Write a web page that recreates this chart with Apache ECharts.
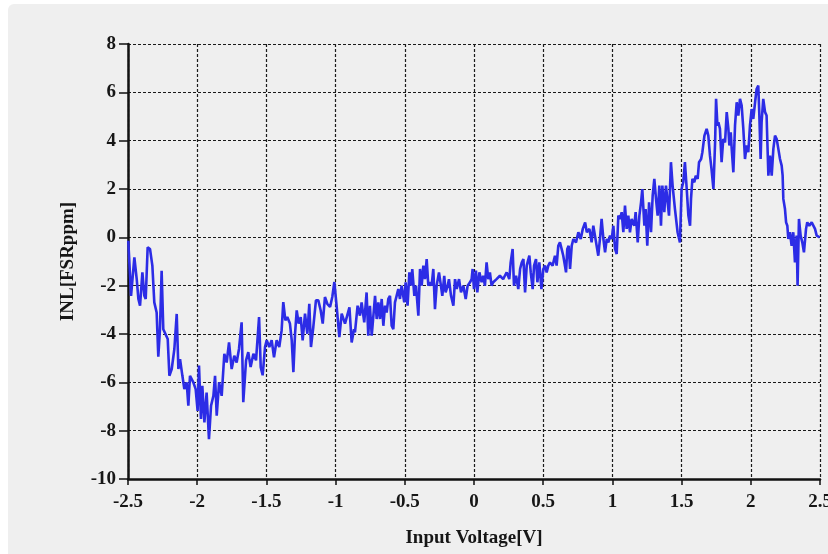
<!DOCTYPE html>
<html>
<head>
<meta charset="utf-8">
<script src="https://cdn.jsdelivr.net/npm/echarts@6/dist/echarts.min.js"></script>
<style>
  html, body { margin: 0; padding: 0; background: #ffffff; overflow: hidden; }
  #panel { position: absolute; left: 8px; top: 4px; width: 840px; height: 570px; background: #efefef; border-radius: 6px; }
  #chart { position: absolute; left: 0; top: 0; width: 828px; height: 554px; }
</style>
</head>
<body>
<div id="panel"></div>
<div id="chart"></div>
<script>
// Axis ticks
const xTicks = [-2.5, -2, -1.5, -1, -0.5, 0, 0.5, 1, 1.5, 2, 2.5];
const yTicks = [-10, -8, -6, -4, -2, 0, 2, 4, 6, 8];

// Input voltage [V] of each INL sample
const voltage = [
  -2.498, -2.478, -2.454, -2.437, -2.425, -2.413, -2.396, -2.382, -2.372, -2.358,
  -2.341, -2.324, -2.310, -2.293, -2.281, -2.269, -2.257, -2.245, -2.233, -2.213,
  -2.201, -2.184, -2.165, -2.148, -2.136, -2.124, -2.107, -2.093, -2.076, -2.064,
  -2.052, -2.040, -2.028, -2.011, -1.997, -1.987, -1.973, -1.963, -1.948, -1.932,
  -1.915, -1.900, -1.883, -1.871, -1.859, -1.842, -1.823, -1.804, -1.787, -1.770,
  -1.751, -1.732, -1.715, -1.698, -1.679,
  -1.667, -1.647, -1.631, -1.614, -1.594, -1.575, -1.553, -1.541, -1.527, -1.510,
  -1.498, -1.479, -1.462, -1.445, -1.426, -1.407, -1.390, -1.378, -1.363, -1.349,
  -1.330, -1.317, -1.305, -1.293, -1.281, -1.267, -1.252, -1.238, -1.221, -1.204,
  -1.190, -1.178, -1.161, -1.142, -1.125, -1.108, -1.093, -1.077, -1.060, -1.040,
  -1.024, -1.009, -0.992, -0.973, -0.956, -0.932,
  -0.920, -0.900, -0.884, -0.867,
  -0.860, -0.841, -0.824, -0.812, -0.793, -0.776, -0.764, -0.752, -0.739, -0.727,
  -0.715, -0.703, -0.691, -0.679, -0.667, -0.655, -0.643, -0.631, -0.619, -0.607,
  -0.595, -0.583, -0.571, -0.559, -0.547, -0.535, -0.523, -0.504, -0.494, -0.480,
  -0.467, -0.455, -0.446, -0.431, -0.419, -0.402, -0.390, -0.378, -0.366, -0.354,
  -0.342, -0.330, -0.318, -0.306, -0.294, -0.282, -0.270, -0.253, -0.239, -0.229,
  -0.215, -0.205, -0.190, -0.181, -0.166, -0.149, -0.137, -0.125, -0.108, -0.094,
  -0.077, -0.060, -0.046, -0.029, -0.017,
  -0.010, 0.000, 0.014, 0.024, 0.039, 0.055, 0.067, 0.079, 0.091, 0.103,
  0.115, 0.127, 0.139, 0.151, 0.163, 0.175, 0.187, 0.199, 0.211, 0.223,
  0.236, 0.255, 0.265, 0.279, 0.289, 0.304, 0.320, 0.333, 0.345, 0.357,
  0.369, 0.381, 0.400, 0.410, 0.424, 0.434, 0.448, 0.458, 0.472, 0.487,
  0.501, 0.513, 0.525, 0.537, 0.549, 0.568, 0.585, 0.597, 0.609, 0.621,
  0.633, 0.645, 0.657, 0.665, 0.674, 0.684, 0.694, 0.706, 0.718, 0.737,
  0.754, 0.771, 0.786, 0.803, 0.815, 0.834,
  0.838, 0.850, 0.862, 0.874, 0.886, 0.898, 0.910, 0.922, 0.935, 0.947,
  0.959, 0.971, 0.983, 0.995, 1.007, 1.019, 1.031, 1.043, 1.055, 1.067,
  1.079, 1.091, 1.103, 1.115, 1.127, 1.139, 1.158, 1.168, 1.183, 1.195,
  1.207, 1.216, 1.231, 1.240, 1.252, 1.265, 1.279, 1.291, 1.303, 1.315,
  1.327, 1.339, 1.351, 1.361, 1.375, 1.387, 1.399, 1.409, 1.423, 1.435,
  1.452, 1.471, 1.488, 1.500, 1.512, 1.524, 1.537, 1.549, 1.561, 1.568,
  1.578, 1.592, 1.602, 1.616, 1.626, 1.641, 1.650, 1.665,
  1.681, 1.693, 1.705, 1.716, 1.730, 1.742, 1.749, 1.759, 1.766, 1.777,
  1.789, 1.801, 1.814, 1.826, 1.838, 1.845, 1.855, 1.862, 1.874, 1.886,
  1.898, 1.910, 1.922, 1.934, 1.946, 1.958, 1.970, 1.982, 1.994, 2.006,
  2.018, 2.031, 2.042, 2.054, 2.061, 2.071, 2.078, 2.090, 2.103, 2.114,
  2.127, 2.139, 2.151, 2.163, 2.175, 2.187, 2.199, 2.211, 2.223, 2.230,
  2.235, 2.247, 2.255, 2.264, 2.271, 2.283, 2.295, 2.307, 2.319, 2.331,
  2.338, 2.348, 2.360, 2.372, 2.384, 2.399, 2.408, 2.423, 2.440, 2.452,
  2.464, 2.476, 2.488, 2.498
];

// Integral non-linearity [FSR ppm] at each voltage
const inl = [
  -0.14, -2.42, -0.83, -1.73, -2.55, -2.83, -1.45, -2.42, -2.55, -0.41,
  -0.48, -1.17, -2.69, -3.11, -4.94, -3.80, -1.38, -3.80, -3.73, -4.21,
  -5.73, -5.45, -4.62, -3.17, -5.45, -5.04, -5.73, -6.28, -6.00, -6.97,
  -5.73, -5.73, -6.00, -6.28, -7.18, -5.31, -7.52, -6.14, -7.66, -6.42,
  -8.35, -6.97, -6.56, -5.73, -7.38, -6.00, -6.56, -4.82, -5.18, -4.35,
  -5.45, -4.90, -5.18, -4.62, -3.52,
  -6.82, -5.09, -4.75, -5.37, -4.82, -5.09, -3.30, -5.37, -5.71, -4.54,
  -4.26, -4.54, -4.26, -4.96, -4.26, -4.54, -3.85, -2.68, -3.44, -3.30,
  -3.57, -4.26, -5.58, -3.99, -3.02, -3.57, -3.30, -4.26, -3.16, -3.99,
  -2.75, -4.54, -3.71, -2.61, -2.61, -3.02, -3.57, -2.47, -2.75, -2.88,
  -2.47, -1.85, -2.88, -4.13, -3.16, -3.57,
  -3.52, -2.90, -4.35, -3.80,
  -3.93, -2.83, -3.24, -2.69, -3.52, -2.28, -4.07, -2.83, -4.07, -4.07,
  -2.42, -3.38, -2.69, -3.38, -2.55, -3.66, -2.83, -3.11, -2.55, -2.42,
  -3.66, -3.80, -2.69, -2.42, -2.14, -2.55, -2.00, -2.69, -1.86, -2.83,
  -1.45, -2.00, -1.31, -2.42, -2.00, -3.24, -1.31, -2.00, -1.17, -1.73,
  -0.90, -2.00, -1.86, -2.00, -1.31, -2.97, -2.00, -1.45, -2.00, -2.42,
  -1.59, -2.28, -2.00, -1.73, -2.42, -2.83, -1.73, -2.14, -1.73, -2.28,
  -2.00, -2.55, -2.00, -1.86, -1.73,
  -1.31, -2.14, -1.38, -2.28, -1.45, -1.86, -1.59, -2.00, -1.04, -1.73,
  -1.45, -2.00, -1.86, -1.86, -1.73, -1.79, -1.59, -1.66, -1.73, -1.59,
  -1.45, -1.73, -1.04, -0.48, -2.00, -1.59, -2.14, -1.31, -1.04, -0.90,
  -2.28, -1.17, -0.76, -1.45, -2.14, -1.17, -0.90, -1.86, -1.04, -2.14,
  -1.31, -1.17, -1.45, -1.17, -1.04, -1.17, -0.76, -1.17, -0.35, -0.21,
  -0.48, -0.76, -1.17, -1.45, -0.48, -0.35, -1.31, -0.35, -0.07, -0.21,
  0.21, -0.07, 0.35, 0.62, 0.21, 0.35,
  0.21, -0.21, 0.48, 0.07, -0.35, -0.76, -0.07, 0.76, -0.07, -0.62,
  -0.07, -0.21, 0.07, -0.07, 0.48, -0.48, -0.69, 0.90, 0.76, 1.04,
  0.21, 1.31, 0.35, 0.90, 0.21, 0.76, 0.48, 1.04, -0.21, 0.90,
  1.45, 2.00, 0.48, 1.17, -0.35, 1.45, 0.21, 1.73, 2.42, 1.59,
  0.90, 2.14, 0.48, 2.14, 1.04, 2.14, 2.14, 0.90, 3.11, 2.14,
  1.17, 0.21, -0.21, 2.00, 2.28, 3.11, 2.00, 0.90, 0.48, 1.59,
  2.42, 2.28, 2.55, 2.42, 3.11, 3.24, 3.52, 4.21,
  4.49, 4.21, 3.38, 2.83, 2.00, 3.93, 5.73, 4.62, 4.76, 4.49,
  3.11, 4.07, 3.93, 5.18, 4.49, 3.80, 4.35, 3.66, 2.69, 4.62,
  5.59, 5.04, 5.73, 5.45, 4.49, 3.24, 3.80, 3.52, 4.62, 5.31,
  4.90, 5.59, 6.14, 6.28, 5.18, 3.24, 4.76, 5.73, 5.18, 5.04,
  2.55, 3.38, 2.55, 3.66, 4.21, 4.07, 3.66, 3.24, 2.97, 2.55,
  1.59, 1.17, 0.62, 0.48, -0.07, 0.21, -0.35, 0.21, -1.04, 0.07,
  -2.00, 0.76, 0.07, -0.21, -0.62, 0.35, 0.62, 0.48, 0.62, 0.55,
  0.35, 0.07, 0.07, 0.00
];

const points = voltage.map((v, i) => [v, inl[i]]);

const serif = "'Liberation Serif', 'Times New Roman', serif";
const ink = '#161616';

const chart = echarts.init(document.getElementById('chart'), null, { renderer: 'canvas' });
chart.setOption({
  animation: false,
  backgroundColor: 'transparent',
  grid: { left: 128, right: 8, top: 44, bottom: 75, containLabel: false, outerBoundsMode: 'none' },
  xAxis: {
    type: 'value',
    min: xTicks[0],
    max: xTicks[xTicks.length - 1],
    interval: 0.5,
    name: 'Input Voltage[V]',
    nameLocation: 'middle',
    nameGap: 50,
    nameTextStyle: { fontFamily: serif, fontWeight: 'bold', fontSize: 19, color: ink },
    axisLine: { show: true, onZero: false, lineStyle: { color: '#111', width: 2.5 } },
    axisTick: { show: true, length: 6, lineStyle: { color: '#111', width: 1.5 } },
    axisLabel: {
      fontFamily: serif, fontWeight: 'bold', fontSize: 19, color: ink, margin: 14,
      hideOverlap: false,
      formatter: v => String(v)
    },
    splitLine: { show: true, lineStyle: { color: '#1a1a1a', width: 1.2, type: [3, 2] } }
  },
  yAxis: {
    type: 'value',
    min: yTicks[0],
    max: yTicks[yTicks.length - 1],
    interval: 2,
    name: 'INL[FSRppm]',
    nameLocation: 'middle',
    nameGap: 50,
    nameTextStyle: { fontFamily: serif, fontWeight: 'bold', fontSize: 19, color: ink },
    axisLine: { show: true, onZero: false, lineStyle: { color: '#111', width: 2.5 } },
    axisTick: { show: true, length: 9, lineStyle: { color: '#111', width: 1.5 } },
    axisLabel: { fontFamily: serif, fontWeight: 'bold', fontSize: 19, color: ink, margin: 12 },
    splitLine: { show: true, lineStyle: { color: '#1a1a1a', width: 1.2, type: [3, 2] } }
  },
  series: [{
    type: 'line',
    data: points,
    showSymbol: false,
    smooth: false,
    clip: true,
    lineStyle: { color: '#2c2ce6', width: 2.6 },
    z: 5
  }]
});
</script>
</body>
</html>
